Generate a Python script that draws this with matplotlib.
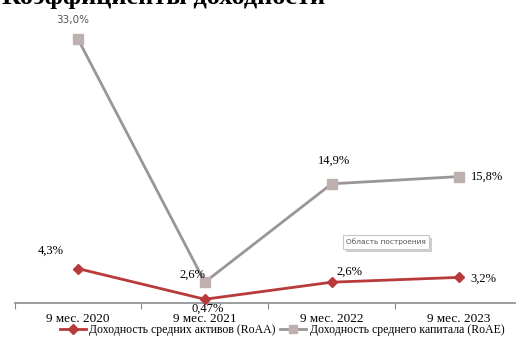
import matplotlib
matplotlib.use("Agg")
import matplotlib.pyplot as plt
import matplotlib.patheffects as pe
from matplotlib.lines import Line2D

categories = ["9 мес. 2020", "9 мес. 2021", "9 мес. 2022", "9 мес. 2023"]
roaa = [4.3, 0.47, 2.6, 3.2]
roae = [33.0, 2.6, 14.9, 15.8]
roaa_labels = ["4,3%", "0,47%", "2,6%", "3,2%"]
roae_labels = ["33,0%", "2,6%", "14,9%", "15,8%"]
title = "Коэффициенты доходности"
legend_labels = ["Доходность средних активов (RoAA)", "Доходность среднего капитала (RoAE)"]

W, H = 516, 349
fig = plt.figure(figsize=(W / 100, H / 100), dpi=100)
serif = "Liberation Serif"

# axes: left 14.5px, right 522px, top 23px, bottom 303px
ax = fig.add_axes([14.5 / W, 1 - 303 / H, (522 - 14.5) / W, (303 - 23) / H])
ax.set_xlim(-0.5, 3.5)
ax.set_ylim(0, 35)
for s in ["top", "right", "left"]:
    ax.spines[s].set_visible(False)
ax.spines["bottom"].set_color("#8c8c8c")
ax.spines["bottom"].set_linewidth(1.2)
ax.set_yticks([])
x = list(range(len(categories)))
ax.set_xticks([i - 0.5 for i in range(len(categories) + 1)], minor=False)
ax.set_xticklabels([])
ax.tick_params(axis="x", which="major", length=4, color="#8c8c8c", direction="out")
ax.set_xticks(x, minor=True)
ax.set_xticklabels(categories, minor=True, fontfamily=serif, fontsize=9.5)
ax.tick_params(axis="x", which="minor", length=0, pad=7)

red = "#b83a3a"
grey = "#9a9696"
ax.plot(x, roae, color=grey, lw=2, marker="s", ms=7, mfc="#bfb0b0", mec="#bfb0b0", clip_on=False, zorder=3)
ax.plot(x, roaa, color=red, lw=2, marker="D", ms=5, mfc=red, mec=red, clip_on=False, zorder=4)

# data labels (pixel offsets)
def lab(i, v, text, dx, dy, family=serif, color="black", size=9, ha="center"):
    ax.annotate(text, (x[i], v), xytext=(dx, dy), textcoords="offset pixels",
                ha=ha, va="center", fontfamily=family, color=color, fontsize=size)

lab(0, roae[0], roae_labels[0], -5, 19, family="DejaVu Sans", color="#555555", size=7.5)
lab(1, roae[1], roae_labels[1], -12, 7)
lab(2, roae[2], roae_labels[2], 2, 23)
lab(3, roae[3], roae_labels[3], 12, 0, ha="left")
lab(0, roaa[0], roaa_labels[0], -27, 18)
lab(1, roaa[1], roaa_labels[1], 3, -9)
lab(2, roaa[2], roaa_labels[2], 18, 10)
lab(3, roaa[3], roaa_labels[3], 12, -1, ha="left")

# tooltip-like label with a soft shadow
t = fig.text(386 / W, 1 - 242 / H, "Область построения", ha="center", va="center",
             fontsize=5.3, color="#555555", fontfamily="DejaVu Sans",
             bbox=dict(boxstyle="square,pad=0.45", fc="white", ec="#c8c8c8", lw=0.8))
t.get_bbox_patch().set_path_effects([
    pe.SimplePatchShadow(offset=(2, -2), shadow_rgbFace="#cfcfcf", alpha=1.0),
    pe.Normal()])

# title (partly cut at top)
fig.text(2 / W, 1 - 4 / H, title, ha="left", va="baseline", fontfamily=serif,
         fontweight="bold", fontsize=19)

handles = [Line2D([], [], color=red, lw=2, marker="D", ms=5),
           Line2D([], [], color=grey, lw=2, marker="s", ms=6, mfc="#bfb0b0", mec="#bfb0b0")]
fig.legend(handles, legend_labels, loc="center", bbox_to_anchor=(282 / W, 1 - 330 / H),
           ncol=2, frameon=False, prop={"family": serif, "size": 8.5},
           handlelength=2.2, handletextpad=0.3, columnspacing=0.4)

fig.savefig("out.png", dpi=100)
